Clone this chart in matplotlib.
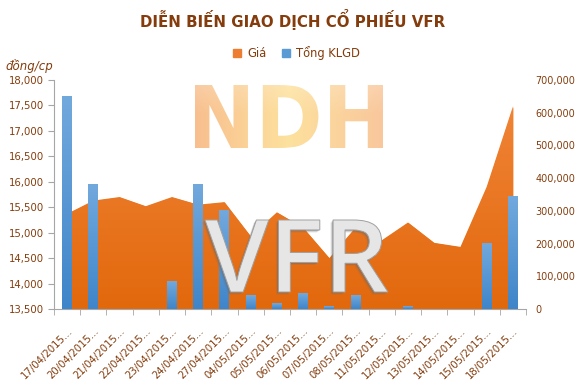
import numpy as np
import matplotlib
matplotlib.use("Agg")
import matplotlib.pyplot as plt
from matplotlib.lines import Line2D
from matplotlib.textpath import TextPath
from matplotlib.font_manager import FontProperties
from matplotlib.patches import PathPatch
from matplotlib.transforms import Affine2D
from matplotlib.colors import LinearSegmentedColormap

# ---------------- data ----------------
dates = ["17/04/2015", "20/04/2015", "21/04/2015", "22/04/2015", "23/04/2015",
         "24/04/2015", "27/04/2015", "04/05/2015", "05/05/2015", "06/05/2015",
         "07/05/2015", "08/05/2015", "11/05/2015", "12/05/2015", "13/05/2015",
         "14/05/2015", "15/05/2015", "18/05/2015"]
price = [15370, 15630, 15700, 15520, 15700, 15550, 15600, 14930, 15400, 15100,
         14500, 15100, 14850, 15200, 14800, 14720, 15900, 17480]
volume = [650000, 380000, 0, 0, 84000, 380000, 300000, 40000, 18000, 46000,
          9000, 40000, 0, 9000, 0, 0, 200000, 345000]
left_ticks = [13500, 14000, 14500, 15000, 15500, 16000, 16500, 17000, 17500, 18000]
right_ticks = [0, 100000, 200000, 300000, 400000, 500000, 600000, 700000]

title = "DIỄN BIẾN GIAO DỊCH CỔ PHIẾU VFR"
brown = "#843C0C"
W, H = 577, 384

fig = plt.figure(figsize=(W / 100, H / 100), dpi=100)
ax = fig.add_axes([54 / W, 1 - 309 / H, (526 - 54) / W, (309 - 80) / H])
ax2 = ax.twinx()

x = np.arange(len(dates))
ax.set_xlim(-0.5, len(dates) - 0.5)
ax.set_ylim(left_ticks[0], left_ticks[-1])
ax2.set_ylim(right_ticks[0], right_ticks[-1])

# ---- area with gradient ----
poly = ax.fill_between(x, price, left_ticks[0], color="#ec7a22", lw=0, zorder=1)
cmap_o = LinearSegmentedColormap.from_list("o", ["#e2680c", "#f2873c"])
grad = np.linspace(0, 1, 256).reshape(-1, 1)
im = ax.imshow(grad, extent=(-0.5, len(dates) - 0.5, left_ticks[0], left_ticks[-1]),
               origin="lower", aspect="auto", cmap=cmap_o, zorder=2)
im.set_clip_path(poly.get_paths()[0], ax.transData)

# ---- bars with gradient ----
cmap_b = LinearSegmentedColormap.from_list("b", ["#3f85c9", "#72a9dd"])
bars = ax2.bar(x, volume, width=0.38, color="#5b9bd5", lw=0, zorder=2)
for r in bars:
    h = r.get_height()
    if h <= 0:
        continue
    ax2.imshow(grad, extent=(r.get_x(), r.get_x() + r.get_width(), 0, h),
               origin="lower", aspect="auto", cmap=cmap_b, zorder=3)
ax.set_xlim(-0.5, len(dates) - 0.5)
ax2.set_ylim(right_ticks[0], right_ticks[-1])

# ---- axes styling ----
for a in (ax, ax2):
    for s in a.spines.values():
        s.set_visible(False)
ax.spines["left"].set_visible(True)
ax.spines["bottom"].set_visible(True)
ax.spines["left"].set_color("#a6a6a6")
ax.spines["bottom"].set_color("#a6a6a6")
ax.spines["left"].set_zorder(5)

ax.set_yticks(left_ticks)
ax.set_yticklabels([f"{v:,}" for v in left_ticks])
ax.tick_params(axis="y", length=4, color="#a6a6a6", labelsize=7.3, labelcolor=brown, pad=3)
ax2.set_yticks(right_ticks)
ax2.set_yticklabels([f"{v:,}" for v in right_ticks])
ax2.tick_params(axis="y", length=0, labelsize=6.9, labelcolor=brown, pad=7)

ax.set_xticks(x)
ax.set_xticklabels([d + "..." for d in dates], rotation=45, ha="right",
                   rotation_mode="anchor", fontsize=7.3, color=brown)
ax.tick_params(axis="x", length=0, pad=12)
ax.set_xticks(np.arange(-0.5, len(dates)), minor=True)
ax.tick_params(axis="x", which="minor", length=4, color="#a6a6a6")

# ---- title, legend, unit ----
fig.text(293 / W, 1 - 19 / H, title, ha="center", va="center", fontsize=10.8,
         fontweight="bold", color=brown, family="DejaVu Sans")
handles = [Line2D([], [], ls="", marker="s", ms=5.5, color="#ed7d31"),
           Line2D([], [], ls="", marker="s", ms=5.5, color="#5b9bd5")]
fig.legend(handles, ["Giá", "Tổng KLGD"], loc="center", ncol=2,
           bbox_to_anchor=(296 / W, 1 - 53 / H), frameon=False, fontsize=8.3,
           labelcolor=brown, handlelength=0.8, handletextpad=0.5, columnspacing=1.3)
fig.text(5 / W, 1 - 66 / H, "đồng/cp", ha="left", va="center", fontsize=8.5,
         style="italic", color=brown)

# ---- watermarks ----
ov = fig.add_axes([0, 0, 1, 1], zorder=10)
ov.set_xlim(0, W)
ov.set_ylim(0, H)
ov.axis("off")
ov.patch.set_alpha(0)


def fit_path(text, box, weight="bold", family="DejaVu Sans"):
    tp = TextPath((0, 0), text, size=1, prop=FontProperties(family=family, weight=weight))
    ext = tp.get_extents()
    x0, x1, y0, y1 = box
    tr = (Affine2D().translate(-ext.x0, -ext.y0)
          .scale((x1 - x0) / ext.width, (y1 - y0) / ext.height)
          .translate(x0, y0))
    return tr.transform_path(tp)


# NDH logo
ndh = fit_path("NDH", (195, 383, H - 148, H - 85), weight="heavy")
pp = PathPatch(ndh, facecolor="none", edgecolor="none")
ov.add_patch(pp)
xs = np.linspace(0, 1, 200)
cl = np.array(matplotlib.colors.to_rgb("#f8bf8e"))
cm = np.array(matplotlib.colors.to_rgb("#fde19e"))
cr = np.array(matplotlib.colors.to_rgb("#f9c79c"))
row = np.where(xs[:, None] < 0.5,
               cl + (cm - cl) * (xs[:, None] / 0.5),
               cm + (cr - cm) * ((xs[:, None] - 0.5) / 0.5))
ys = np.linspace(0, 1, 100)[:, None, None]
img = row[None, :, :] * np.ones((100, 1, 1))
light = np.clip((ys - 0.55) * 1.2, 0, 1) * 0.35
img = img + (1 - img) * light
ndh_im = ov.imshow(img, extent=(195, 383, H - 148, H - 85), origin="lower",
                   aspect="auto", zorder=11)
ndh_im.set_clip_path(pp)

# VFR letters
vfr = fit_path("VFR", (205, 388, H - 292, H - 220), weight="semibold",
               family="Open Sans")
for dx, dy, al in [(-2.5, -2.5, 0.18), (-1.5, -1.5, 0.3), (-0.8, -0.8, 0.35)]:
    sh = Affine2D().translate(dx, dy).transform_path(vfr)
    ov.add_patch(PathPatch(sh, facecolor="#6a6a6a", edgecolor="none", alpha=al, zorder=12))
ov.add_patch(PathPatch(vfr, facecolor="#e6e6e6", edgecolor="#a0a0a0", lw=0.7, zorder=13))

fig.savefig("out.png", dpi=100)
